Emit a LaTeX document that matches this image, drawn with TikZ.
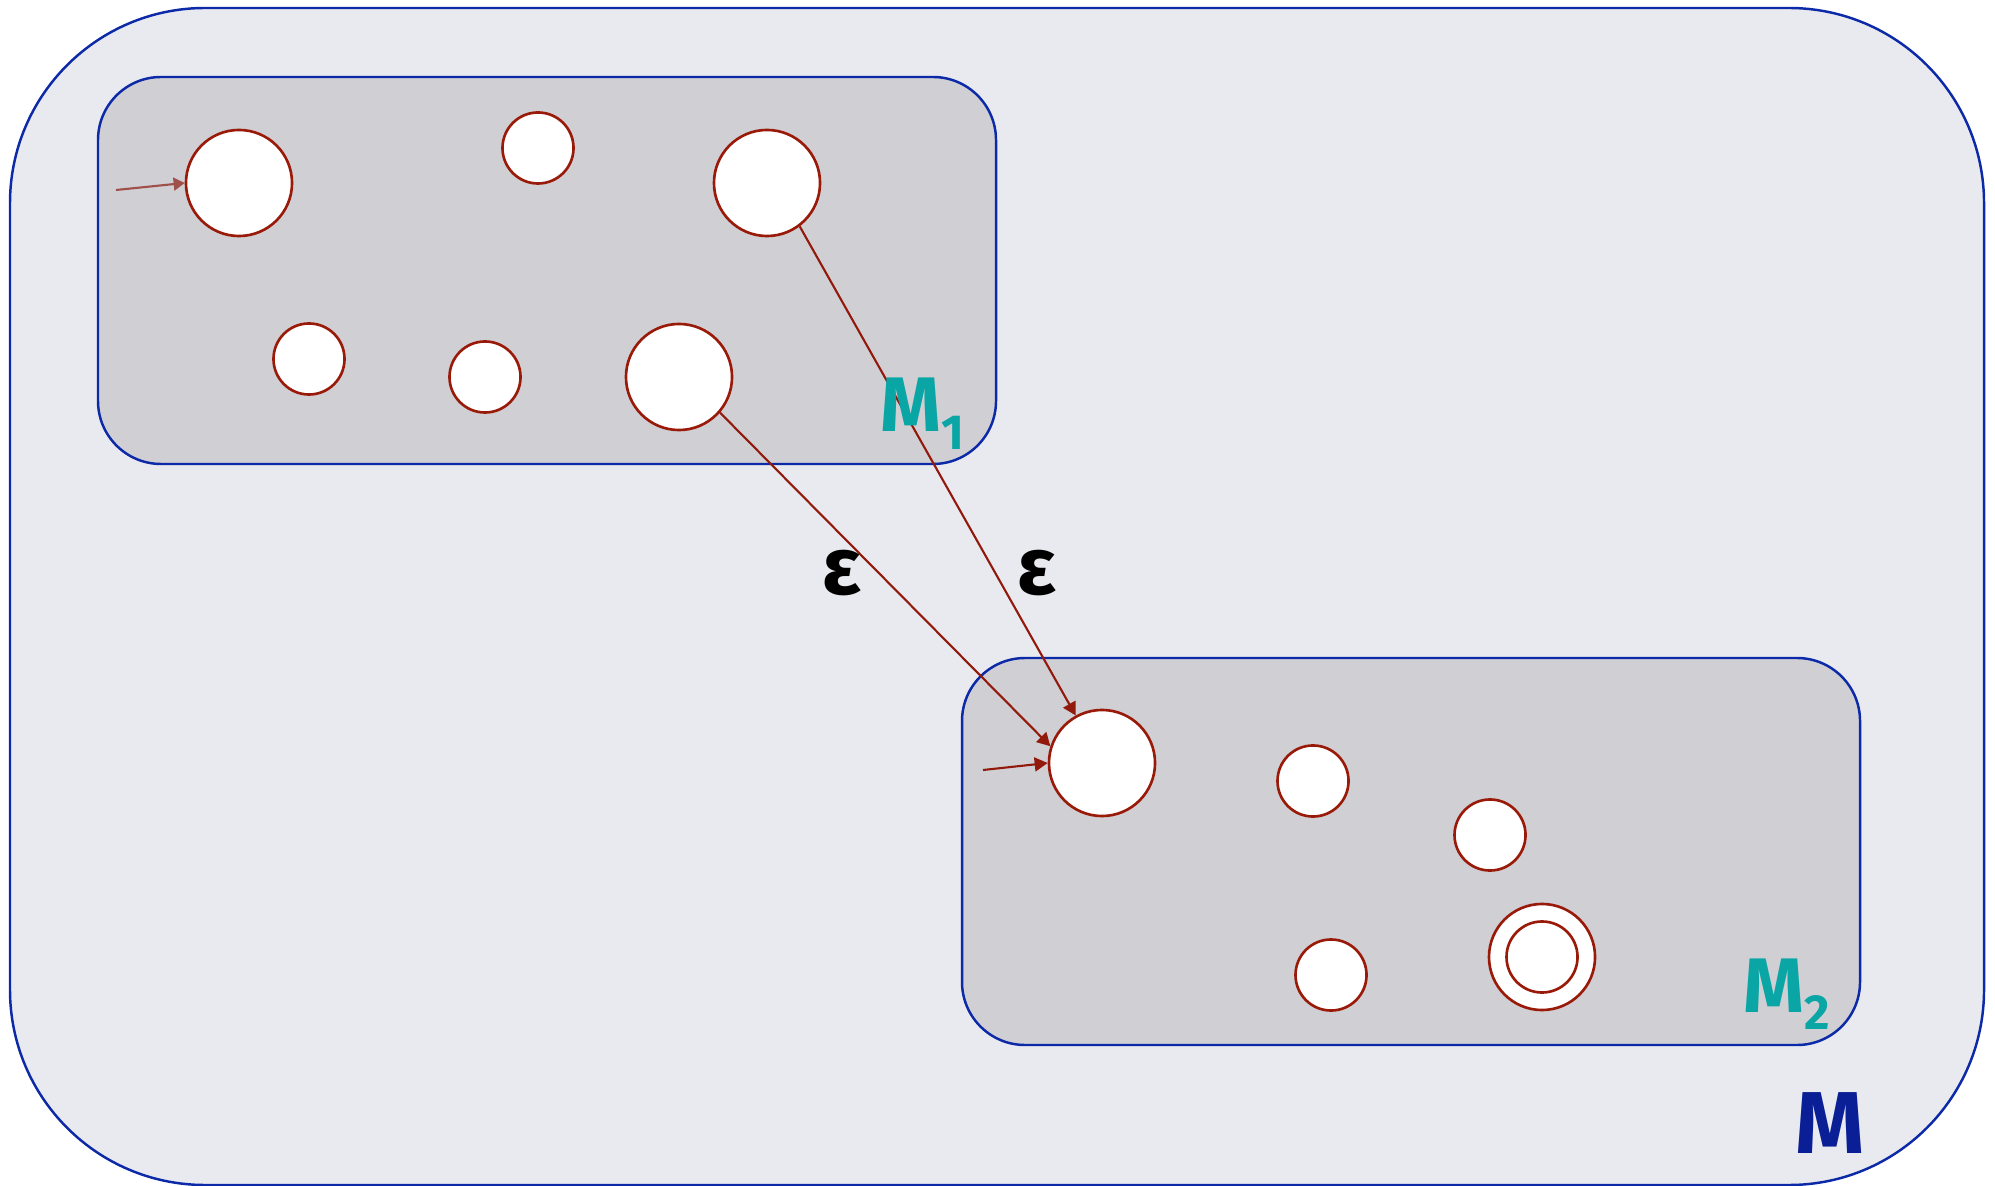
\documentclass[tikz,border=0pt]{standalone}
\usepackage{fontspec}
\setmainfont{Fira Sans}
\usetikzlibrary{arrows.meta}
\definecolor{outerfill}{HTML}{E9EAF0}
\definecolor{innerfill}{HTML}{D0CFD4}
\definecolor{boxline}{HTML}{0C2AA8}
\definecolor{staterim}{HTML}{9A1A0A}
\definecolor{transcol}{HTML}{921A0C}
\definecolor{initarrow}{HTML}{A0504A}
\definecolor{labteal}{HTML}{0AA5A5}
\definecolor{labblue}{HTML}{0A1E96}
\begin{document}
\begin{tikzpicture}[x=0.01cm,y=-0.01cm,
  region/.style={draw=boxline,line width=0.7pt},
  bigstate/.style={circle,draw=staterim,fill=white,line width=0.75pt,inner sep=0pt,minimum size=1.06cm},
  smallstate/.style={circle,draw=staterim,fill=white,line width=0.75pt,inner sep=0pt,minimum size=0.71cm},
  trans/.style={draw=transcol,line width=0.6pt,-{Triangle[length=0.13cm,width=0.14cm]}},
  initial/.style={draw=initarrow,line width=0.6pt,-{Triangle[length=0.11cm,width=0.13cm]}},
  eps/.style={font=\fontsize{23}{23}\selectfont\bfseries,text=black,inner sep=0pt},
  mlabel/.style={text=labteal,inner sep=0pt,anchor=base west},
]
\useasboundingbox (0,0) rectangle (1995,1186);

% outer region M
\draw[region,fill=outerfill,rounded corners=1.95cm] (10,8) rectangle (1984,1185);

% sub-regions M1 and M2
\draw[region,fill=innerfill,rounded corners=0.63cm] (98,77) rectangle (996,464);
\draw[region,fill=innerfill,rounded corners=0.63cm] (962,658) rectangle (1860,1045);

% states of M1
\node[bigstate]   (A) at (239,183) {};
\node[smallstate] (B) at (538,148) {};
\node[bigstate]   (C) at (767,183) {};
\node[smallstate] (D) at (309,359) {};
\node[smallstate] (E) at (485,377) {};
\node[bigstate]   (F) at (679,377) {};

% states of M2
\node[bigstate]   (G) at (1102,763) {};
\node[smallstate] (H) at (1313,781) {};
\node[smallstate] (I) at (1490,835) {};
\node[smallstate] (J) at (1331,975) {};
\node[bigstate]   (K) at (1542,957) {};
\node[smallstate] (Kin) at (1542,957) {};

% initial arrows
\coordinate (i1) at (116,190);
\coordinate (i2) at (983,770);
\draw[initial] (i1) -- (A.180);
\draw[trans] (i2) -- (G.180);

% epsilon transitions from M1 into M2
\draw[trans] (C.-53) -- (G.119);
\draw[trans] (F.-41) -- (G.162);
\node[eps] (e1) at (842,573) {ε};
\node[eps] (e2) at (1037,573) {ε};

% region labels
\node[mlabel] (m1) at (880,432) {\fontsize{22}{22}\selectfont\bfseries M\raisebox{-5pt}{\fontsize{14}{14}\selectfont 1}};
\node[mlabel] (m2) at (1743,1012) {\fontsize{22}{22}\selectfont\bfseries M\raisebox{-5pt}{\fontsize{14}{14}\selectfont 2}};
\node[mlabel,text=labblue] (m) at (1795,1153) {\fontsize{25}{25}\selectfont\bfseries M};
\end{tikzpicture}
\end{document}
